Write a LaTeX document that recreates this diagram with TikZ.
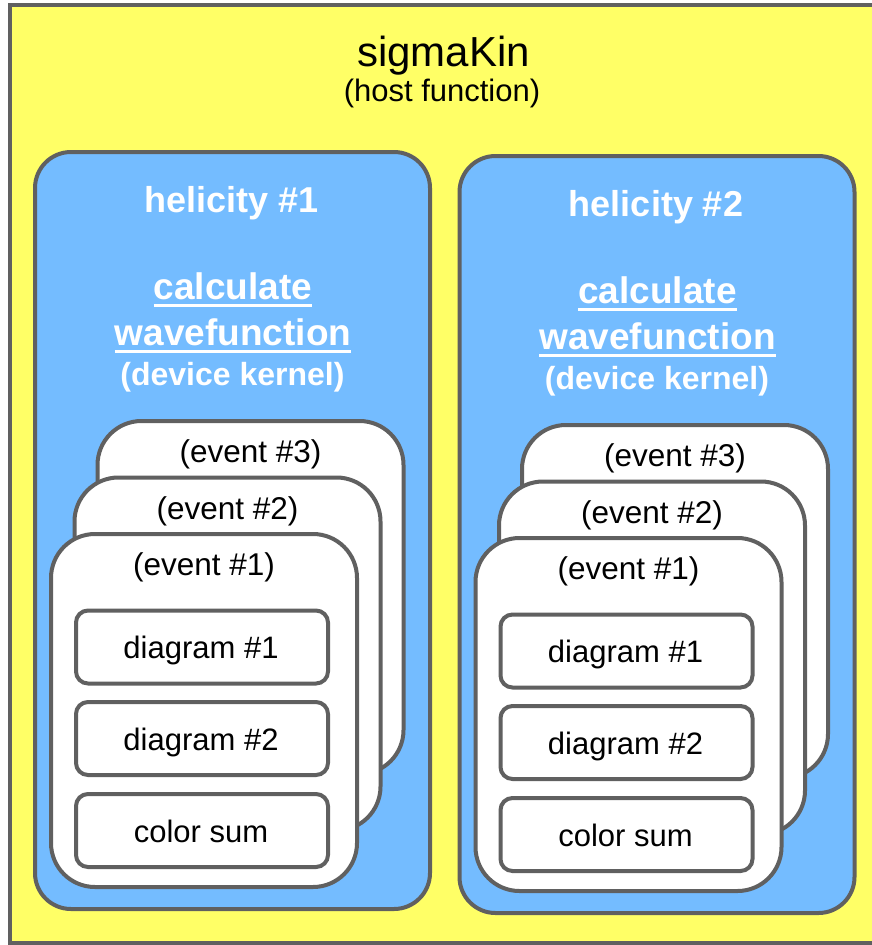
\documentclass[tikz,border=0pt]{standalone}
\usepackage{fontspec}
\setmainfont{Liberation Sans}
\definecolor{bordgray}{HTML}{606060}
\definecolor{hostyellow}{HTML}{FFFF66}
\definecolor{helblue}{HTML}{74BCFF}
\newcommand\myul[1]{\setbox0\hbox{#1}\rlap{\rule[-8pt]{\wd0}{3.5pt}}\box0}
\tikzset{
  boxline/.style={draw=bordgray, line width=4pt},
  hostbox/.style={boxline, fill=hostyellow, inner sep=0pt, minimum width=866pt, minimum height=938pt},
  helbox/.style={boxline, fill=helblue, rounded corners=36pt, inner sep=0pt, minimum width=395pt, minimum height=757pt},
  eventcard/.style={boxline, fill=white, rounded corners=44pt, inner sep=0pt, minimum width=306pt, minimum height=353pt},
  diagbox/.style={boxline, fill=white, rounded corners=12pt, inner sep=0pt, minimum width=252pt, minimum height=73pt},
  lbl/.style={anchor=base, inner sep=0pt},
  heltitle/.style={lbl, text=white, font=\fontsize{36}{40}\selectfont\bfseries},
  kernelname/.style={lbl, text=white, font=\fontsize{37}{42}\selectfont\bfseries},
  kernelnote/.style={lbl, text=white, font=\fontsize{32}{36}\selectfont\bfseries},
  eventlbl/.style={lbl, text=black, font=\fontsize{31.5}{36}\selectfont},
  diaglbl/.style={lbl, text=black, font=\fontsize{31}{36}\selectfont},
}
\newcommand\helcol[3]{%
\begin{scope}[shift={(#2,#3)}]
  \node[helbox] (hel#1) at (232.5,530.5) {};
  \node[heltitle] (helt#1) at (231.5,212.7) {helicity \##1};
  \node[kernelname] (calc#1) at (233,299) {\myul{calculate}};
  \node[kernelname] (wave#1) at (233,345) {\myul{wavefunction}};
  \node[kernelnote] (kern#1) at (232.5,385) {(device kernel)};
  \node[eventcard] (evc#1c) at (250.5,597.5) {};
  \node[eventcard] (evb#1b) at (227.5,654) {};
  \node[eventcard] (eva#1a) at (204,710.5) {};
  \node[eventlbl] (evlc#1) at (250.5,462) {(event \#3)};
  \node[eventlbl] (evlb#1) at (227.5,519) {(event \#2)};
  \node[eventlbl] (evla#1) at (204,575) {(event \#1)};
  \node[diagbox] (dga#1) at (202,647) {};
  \node[diagbox] (dgb#1) at (202,738.5) {};
  \node[diagbox] (dgc#1) at (202,830.5) {};
  \node[diaglbl] (dgat#1) at (201,658.5) {diagram \#1};
  \node[diaglbl] (dgbt#1) at (201,750) {diagram \#2};
  \node[diaglbl] (dgct#1) at (201,842) {color sum};
\end{scope}}
\begin{document}
\begin{tikzpicture}[x=1pt, y=-1pt]
  \useasboundingbox (0,0) rectangle (872,945);
  \node[hostbox] (host) at (443,474) {};
  \node[lbl, font=\fontsize{42}{48}\selectfont] (hostt) at (443.5,66.7) {sigmaKin};
  \node[lbl, font=\fontsize{31}{36}\selectfont] (hostn) at (442,101.7) {(host function)};
  \helcol{1}{0}{0}
  \helcol{2}{424.5}{4}
\end{tikzpicture}
\end{document}
